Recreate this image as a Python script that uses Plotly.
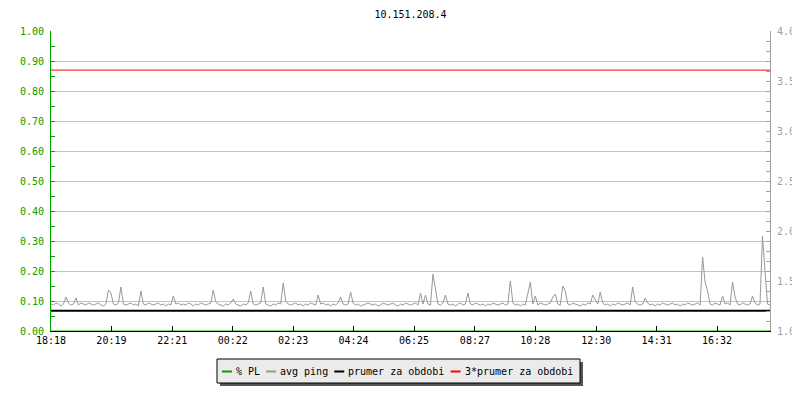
import plotly.graph_objects as go

# ---------------- data ----------------
title_text = "10.151.208.4"
tick_labels = ["18:18", "20:19", "22:21", "00:22", "02:23", "04:24",
               "06:25", "08:27", "10:28", "12:30", "14:31", "16:32"]
step_minutes = 5
span_minutes = 1440

avg_ping = [
    1.27, 1.26, 1.28, 1.27, 1.25, 1.27, 1.34, 1.28, 1.26, 1.27, 1.33, 1.26, 1.28, 1.27, 1.26, 1.28,
    1.27, 1.26, 1.27, 1.28, 1.26, 1.25, 1.27, 1.41, 1.38, 1.27, 1.26, 1.28, 1.44, 1.27, 1.26, 1.27,
    1.28, 1.26, 1.27, 1.25, 1.40, 1.27, 1.26, 1.28, 1.27, 1.26, 1.27, 1.28, 1.26, 1.27, 1.25, 1.27,
    1.26, 1.35, 1.27, 1.28, 1.26, 1.27, 1.26, 1.28, 1.27, 1.25, 1.27, 1.26, 1.28, 1.27, 1.26, 1.27,
    1.28, 1.41, 1.29, 1.27, 1.26, 1.25, 1.27, 1.26, 1.28, 1.32, 1.27, 1.26, 1.25, 1.27, 1.26, 1.28,
    1.40, 1.27, 1.26, 1.27, 1.28, 1.44, 1.27, 1.26, 1.25, 1.27, 1.26, 1.28, 1.27, 1.48, 1.30, 1.27,
    1.26, 1.27, 1.28, 1.26, 1.27, 1.25, 1.27, 1.26, 1.28, 1.27, 1.26, 1.36, 1.27, 1.28, 1.26, 1.27,
    1.25, 1.27, 1.26, 1.28, 1.34, 1.27, 1.26, 1.27, 1.39, 1.28, 1.26, 1.27, 1.25, 1.26, 1.27, 1.28,
    1.27, 1.26, 1.27, 1.25, 1.26, 1.28, 1.27, 1.26, 1.27, 1.28, 1.26, 1.25, 1.27, 1.26, 1.28, 1.27,
    1.26, 1.27, 1.28, 1.26, 1.38, 1.27, 1.36, 1.27, 1.26, 1.57, 1.41, 1.27, 1.26, 1.28, 1.36, 1.27,
    1.26, 1.27, 1.25, 1.27, 1.28, 1.26, 1.27, 1.38, 1.27, 1.26, 1.28, 1.27, 1.26, 1.27, 1.25, 1.27,
    1.26, 1.28, 1.27, 1.26, 1.27, 1.28, 1.26, 1.27, 1.50, 1.28, 1.26, 1.27, 1.25, 1.27, 1.26, 1.38,
    1.49, 1.27, 1.35, 1.26, 1.28, 1.27, 1.26, 1.27, 1.28, 1.34, 1.37, 1.27, 1.26, 1.45, 1.40, 1.27,
    1.26, 1.28, 1.27, 1.26, 1.25, 1.27, 1.26, 1.28, 1.27, 1.36, 1.31, 1.27, 1.39, 1.28, 1.26, 1.27,
    1.25, 1.27, 1.26, 1.28, 1.27, 1.26, 1.27, 1.28, 1.26, 1.44, 1.29, 1.27, 1.26, 1.27, 1.33, 1.28,
    1.26, 1.27, 1.25, 1.27, 1.26, 1.28, 1.27, 1.26, 1.27, 1.28, 1.26, 1.27, 1.25, 1.27, 1.26, 1.28,
    1.27, 1.26, 1.27, 1.28, 1.26, 1.74, 1.49, 1.40, 1.27, 1.26, 1.28, 1.27, 1.26, 1.35, 1.27, 1.28,
    1.26, 1.49, 1.34, 1.27, 1.26, 1.28, 1.27, 1.26, 1.27, 1.35, 1.28, 1.26, 1.27, 1.95, 1.60, 1.27,
    1.26,
]
packet_loss = [0.0] * len(avg_ping)
prumer = 1.203
prumer3 = 3 * prumer

series_names = ["% PL", "avg ping", "prumer za obdobi", "3*prumer za obdobi"]
series_colors = ["#00A000", "#999999", "#000000", "#FF0000"]

# ---------------- derived ----------------
x_vals = [i * step_minutes for i in range(len(avg_ping))]


def label_minutes(lbl, start="18:18"):
    h, m = map(int, lbl.split(":"))
    h0, m0 = map(int, start.split(":"))
    return ((h * 60 + m) - (h0 * 60 + m0)) % 1440


tick_vals = [label_minutes(l) for l in tick_labels]

FONT = "DejaVu Sans Mono"

fig = go.Figure()
fig.add_trace(go.Scatter(x=x_vals, y=packet_loss, mode="lines", name=series_names[0],
                         line=dict(color=series_colors[0], width=1), yaxis="y",
                         showlegend=False))
fig.add_trace(go.Scatter(x=x_vals, y=avg_ping, mode="lines", name=series_names[1],
                         line=dict(color=series_colors[1], width=1), yaxis="y2",
                         showlegend=False))
fig.add_trace(go.Scatter(x=[0, span_minutes], y=[prumer, prumer], mode="lines",
                         name=series_names[2], line=dict(color=series_colors[2], width=2),
                         yaxis="y2", showlegend=False))
fig.add_trace(go.Scatter(x=[0, span_minutes], y=[prumer3, prumer3], mode="lines",
                         name=series_names[3], line=dict(color=series_colors[3], width=1),
                         yaxis="y2", showlegend=False))

# page body has an 8px default margin: lay out in window pixels, shift by OFF
OFF = 8
W, H = 800, 400
PL, PR, PT, PB = 51, 770, 31, 331          # plot area in window pixels
L, T = PL - OFF, PT - OFF
R, B = W - (PR - OFF), H - (PB - OFF)
PW, PH = PR - PL, PB - PT


def px(xp):
    return (xp - PL) / PW


def py(yp):
    return (PB - yp) / PH


shapes = []
annotations = []

# custom legend box with shadow
bx0, bx1, by0, by1 = 217, 580, 359, 383
shapes.append(dict(type="rect", xref="paper", yref="paper",
                   x0=px(bx0 + 3), x1=px(bx1 + 3), y0=py(by0 + 3), y1=py(by1 + 3),
                   fillcolor="#555555", line=dict(width=0), layer="above"))
shapes.append(dict(type="rect", xref="paper", yref="paper",
                   x0=px(bx0), x1=px(bx1), y0=py(by0), y1=py(by1),
                   fillcolor="#EBEBEB", line=dict(color="#000000", width=1), layer="above"))
cw = 6.02
cur = bx0 + 5
ymid = 371.5
for name, col in zip(series_names, series_colors):
    shapes.append(dict(type="line", xref="paper", yref="paper",
                       x0=px(cur), x1=px(cur + 10), y0=py(ymid), y1=py(ymid),
                       line=dict(color=col, width=2), layer="above"))
    cur += 14
    annotations.append(dict(text=name, xref="paper", yref="paper", x=px(cur - 2), y=py(ymid),
                            xanchor="left", yanchor="middle", showarrow=False,
                            font=dict(family=FONT, size=10, color="#000000")))
    cur += len(name) * cw + 6

fig.update_layout(
    width=W, height=H,
    margin=dict(l=L, r=R, t=T, b=B, pad=0),
    paper_bgcolor="white", plot_bgcolor="white",
    title=dict(text=title_text, x=px(410.5), xref="paper", xanchor="center",
               yref="container", y=1 - (14 - OFF) / H, yanchor="middle",
               font=dict(family=FONT, size=10, color="#000000")),
    font=dict(family=FONT, size=10),
    showlegend=False,
    xaxis=dict(range=[0, span_minutes], tickvals=tick_vals, ticktext=tick_labels,
               ticks="inside", ticklen=5, tickcolor="#000000", showgrid=False,
               showline=True, linecolor="#000000", linewidth=1, zeroline=False,
               automargin=False,
               tickfont=dict(family=FONT, size=10, color="#000000")),
    yaxis=dict(range=[0, 1], dtick=0.1, tick0=0, tickformat=".2f",
               ticks="inside", ticklen=4, tickcolor="#00A000",
               showline=True, linecolor="#00A000", linewidth=1, automargin=False,
               showgrid=True, gridcolor="#C4C4C4", gridwidth=1, zeroline=False,
               tickfont=dict(family=FONT, size=10, color="#00A000"),
               ticklabelstandoff=4,
               minor=dict(dtick=0.05, tick0=0, ticks="inside", ticklen=4,
                          tickcolor="#00A000", showgrid=False)),
    yaxis2=dict(range=[1, 4], dtick=0.5, tick0=1, tickformat=".1f", overlaying="y",
                side="right", ticks="inside", ticklen=4, tickcolor="#A0A0A0",
                showline=True, linecolor="#A0A0A0", linewidth=1, automargin=False,
                showgrid=False, zeroline=False,
                tickfont=dict(family=FONT, size=10, color="#A0A0A0"),
                ticklabelstandoff=4,
                minor=dict(dtick=0.1, tick0=1, ticks="inside", ticklen=4,
                           tickcolor="#A0A0A0", showgrid=False)),
    shapes=shapes,
    annotations=annotations,
)

fig.write_html("out.html")
